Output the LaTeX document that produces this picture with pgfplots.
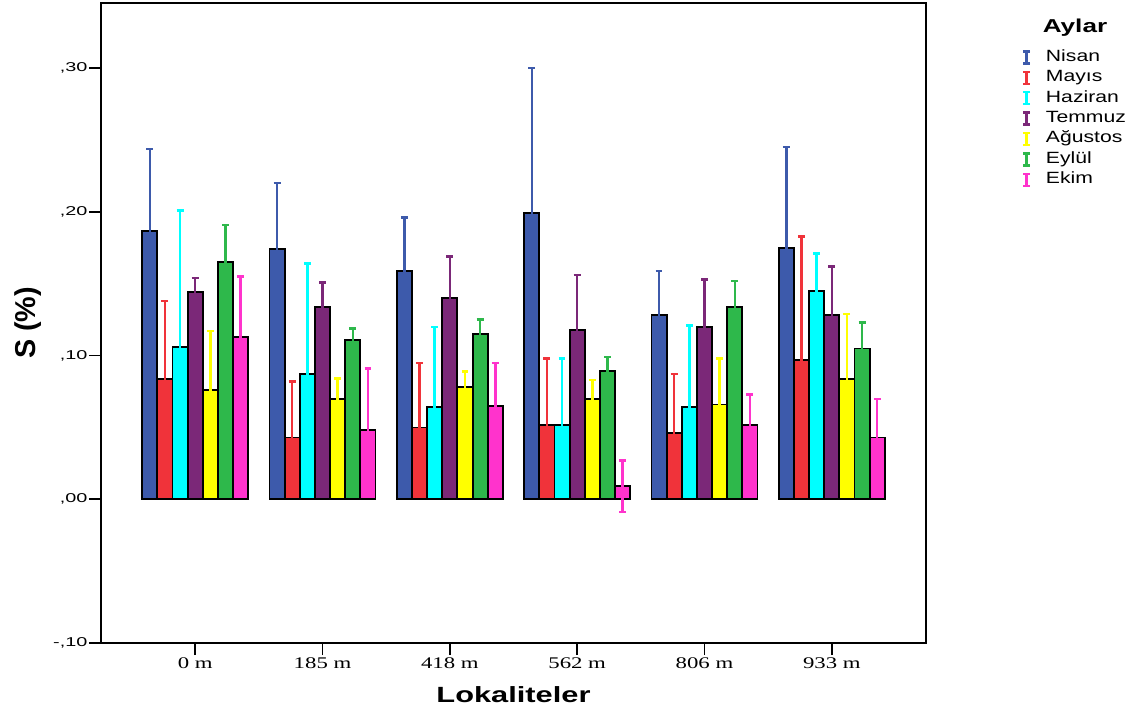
\documentclass[border=0pt]{standalone}
\usepackage{fontspec}
\setmainfont{Liberation Sans}
\newfontfamily\ytickfont{Liberation Sans}[FakeStretch=1.55]
\newfontfamily\legfont{Liberation Sans}[FakeStretch=1.3]
\newfontfamily\labfont{Liberation Sans}[FakeStretch=1.4]
\newfontfamily\xtickfont{Liberation Serif}[FakeStretch=1.4]
\usepackage{graphicx}
\usepackage{pgfplots}
\pgfplotsset{compat=1.18}

\definecolor{cNis}{HTML}{3D5AAB}
\definecolor{cMay}{HTML}{F0333A}
\definecolor{cHaz}{HTML}{00FFFF}
\definecolor{cTem}{HTML}{7B2878}
\definecolor{cAgu}{HTML}{FFFF00}
\definecolor{cEyl}{HTML}{2EB84B}
\definecolor{cEki}{HTML}{FF33CC}

\pgfplotsset{
  month/.style={
    fill=#1, draw=black, line width=1.4pt,
    legend image code/.code={
      \draw[line width=1.8pt,#1] (2.6pt,-4.5pt) -- (2.6pt,4.5pt)
        (0pt,-4.5pt) -- (5.2pt,-4.5pt) (0pt,4.5pt) -- (5.2pt,4.5pt);},
    error bars/y dir=both,
    error bars/y explicit,
    error bars/error mark=|,
    error bars/error bar style={line width=1.8pt, draw=#1, solid},
    error bars/error mark options={line width=1.8pt, mark size=2.6pt, draw=#1, solid},
  },
}

\begin{document}
\begin{tikzpicture}
\path[use as bounding box] (0,0) rectangle (855.75pt,536.25pt);
\begin{axis}[
  at={(75.75pt,54pt)}, anchor=south west,
  scale only axis, width=618.75pt, height=480pt,
  clip=false,
  ybar=0pt, bar width=0.119,
  xmin=-0.74, xmax=5.74,
  ymin=-0.1, ymax=0.3454,
  xtick={0,1,2,3,4,5},
  xticklabels={0 m,185 m,418 m,562 m,806 m,933 m},
  ytick={-0.1,0,0.1,0.2,0.3},
  yticklabels={{-,10},{,00},{,10},{,20},{,30}},
  xtick pos=bottom, ytick pos=left,
  tick align=outside,
  major tick length=9pt,
  major tick style={line width=1.3pt, black},
  axis line style={line width=1.3pt},
  xticklabel style={font=\xtickfont\fontsize{12.2pt}{14pt}\selectfont, inner sep=2pt},
  yticklabel style={font=\ytickfont\fontsize{9.6pt}{11pt}\selectfont, inner sep=1pt},
  xlabel={\bfseries Lokaliteler},
  xlabel style={font=\labfont\fontsize{16.5pt}{18pt}\selectfont,
    at={(axis description cs:0.5,-0.081)}, anchor=center},
  ylabel={\scalebox{1}[1.4]{\bfseries S (\%)}},
  ylabel style={font=\labfont\fontsize{15.4pt}{17pt}\selectfont,
    at={(axis description cs:-0.0885,0.5)}, anchor=center},
  legend style={draw=none, fill=none, inner sep=0pt,
    at={(rel axis cs:1.116,0.928)}, anchor=north west,
    font=\legfont\fontsize{12.2pt}{14pt}\selectfont,
    row sep=3.3pt,
    /tikz/every odd column/.append style={column sep=11pt},
    nodes={inner sep=0pt, text height=9pt, text depth=3pt}},
  legend cell align=left,
]
% Nisan
\addplot[month=cNis] coordinates {
  (0,0.187) +- (0,0.057) (1,0.174) +- (0,0.046) (2,0.159) +- (0,0.037)
  (3,0.199) +- (0,0.101) (4,0.128) +- (0,0.031) (5,0.175) +- (0,0.070)};
% Mayıs
\addplot[month=cMay] coordinates {
  (0,0.084) +- (0,0.054) (1,0.043) +- (0,0.039) (2,0.050) +- (0,0.045)
  (3,0.052) +- (0,0.046) (4,0.046) +- (0,0.041) (5,0.097) +- (0,0.086)};
% Haziran
\addplot[month=cHaz] coordinates {
  (0,0.106) +- (0,0.095) (1,0.087) +- (0,0.077) (2,0.064) +- (0,0.056)
  (3,0.052) +- (0,0.046) (4,0.064) +- (0,0.057) (5,0.145) +- (0,0.026)};
% Temmuz
\addplot[month=cTem] coordinates {
  (0,0.144) +- (0,0.010) (1,0.134) +- (0,0.017) (2,0.140) +- (0,0.029)
  (3,0.118) +- (0,0.038) (4,0.120) +- (0,0.033) (5,0.128) +- (0,0.034)};
% Ağustos
\addplot[month=cAgu] coordinates {
  (0,0.076) +- (0,0.041) (1,0.070) +- (0,0.014) (2,0.078) +- (0,0.011)
  (3,0.070) +- (0,0.013) (4,0.066) +- (0,0.032) (5,0.084) +- (0,0.045)};
% Eylül
\addplot[month=cEyl] coordinates {
  (0,0.165) +- (0,0.026) (1,0.111) +- (0,0.008) (2,0.115) +- (0,0.010)
  (3,0.089) +- (0,0.010) (4,0.134) +- (0,0.018) (5,0.105) +- (0,0.018)};
% Ekim
\addplot[month=cEki] coordinates {
  (0,0.113) +- (0,0.042) (1,0.048) +- (0,0.043) (2,0.065) +- (0,0.030)
  (3,0.009) +- (0,0.018) (4,0.052) +- (0,0.021) (5,0.043) +- (0,0.027)};
\legend{Nisan,Mayıs,Haziran,Temmuz,Ağustos,Eylül,Ekim}
\node[font=\labfont\fontsize{14pt}{16pt}\selectfont\bfseries]
  at (rel axis cs:1.1806,0.962) {Aylar};
\end{axis}
\end{tikzpicture}
\end{document}
